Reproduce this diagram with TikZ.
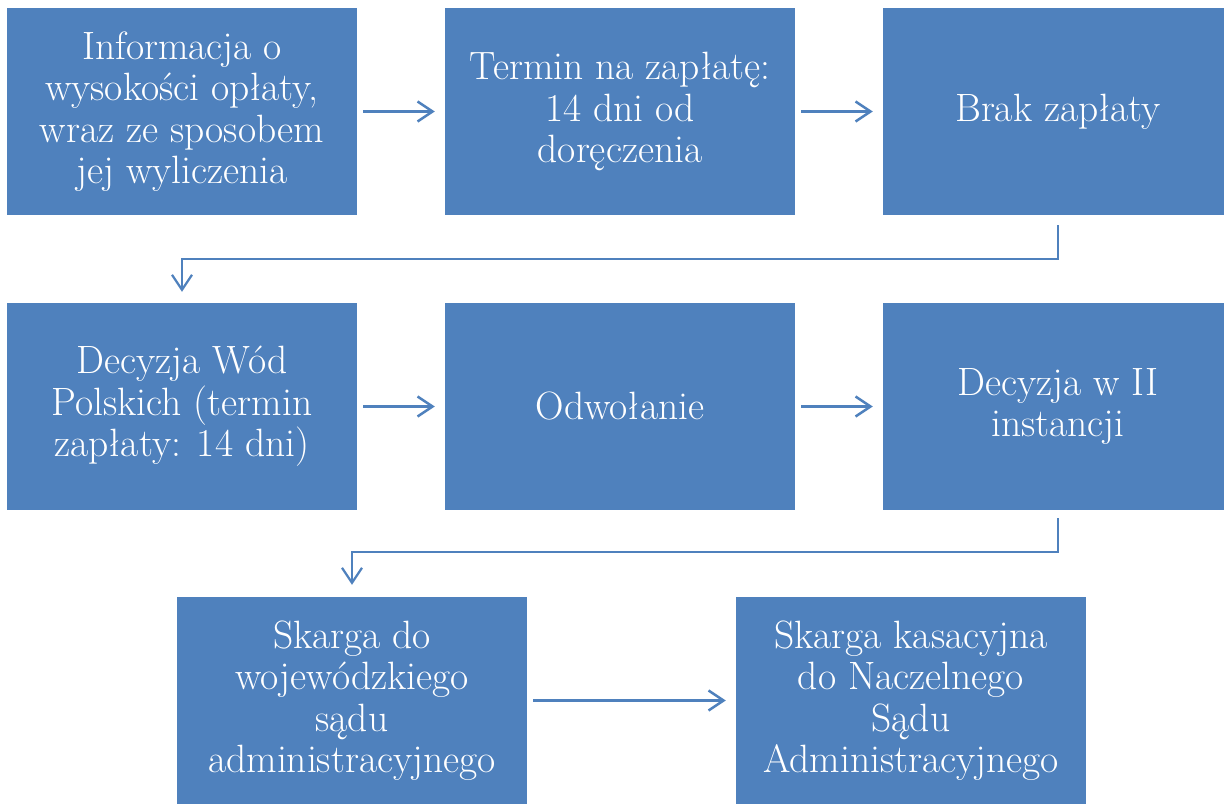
\documentclass[tikz,border=0pt]{standalone}
\usetikzlibrary{arrows.meta}
\definecolor{boxblue}{HTML}{4F81BD}
\begin{document}
\begin{tikzpicture}[x=1pt,y=-1pt,
  box/.style={rectangle, fill=boxblue, draw=none, minimum width=350, minimum height=207,
    inner sep=0pt, text=white, align=center, font=\fontsize{39.5}{41.5}\selectfont},
  arr/.style={draw=boxblue, line width=2.5pt, -{Straight Barb[length=15pt,width=20pt,line width=2.5pt]}},
  elbow/.style={draw=boxblue, line width=2.2pt, -{Straight Barb[length=15pt,width=20pt,line width=2.2pt]}}]
\useasboundingbox (0,0) rectangle (1224,804);
\fill[white] (0,0) rectangle (1224,804);
\node[box] (b1) at (182,111.5) {Informacja o\\wysokości opłaty,\\wraz ze sposobem\\jej wyliczenia};
\node[box] (b2) at (620,111.5) {Termin na zapłatę:\\14 dni od\\doręczenia};
\node[box] (b3) at (1058,111.5) {Brak zapłaty};
\node[box] (b4) at (182,406.5) {Decyzja Wód\\Polskich (termin\\zapłaty: 14 dni)};
\node[box] (b5) at (620,406.5) {Odwołanie};
\node[box] (b6) at (1058,406.5) {Decyzja w II\\instancji};
\node[box] (b7) at (352,700.5) {Skarga do\\wojewódzkiego\\sądu\\administracyjnego};
\node[box] (b8) at (911,700.5) {Skarga kasacyjna\\do Naczelnego\\Sądu\\Administracyjnego};
\coordinate (k1) at (1058,259);
\coordinate (k2) at (1058,552);
\draw[arr, shorten <=6pt, shorten >=10pt] (b1) -- (b2);
\draw[arr, shorten <=6pt, shorten >=10pt] (b2) -- (b3);
\draw[elbow, shorten <=10pt, shorten >=11pt] (b3.south) -- (k1) -| (b4.north);
\draw[arr, shorten <=6pt, shorten >=10pt] (b4) -- (b5);
\draw[arr, shorten <=6pt, shorten >=10pt] (b5) -- (b6);
\draw[elbow, shorten <=8pt, shorten >=12pt] (b6.south) -- (k2) -| (b7.north);
\draw[arr, shorten <=6pt, shorten >=10pt] (b7) -- (b8);
\end{tikzpicture}
\end{document}
